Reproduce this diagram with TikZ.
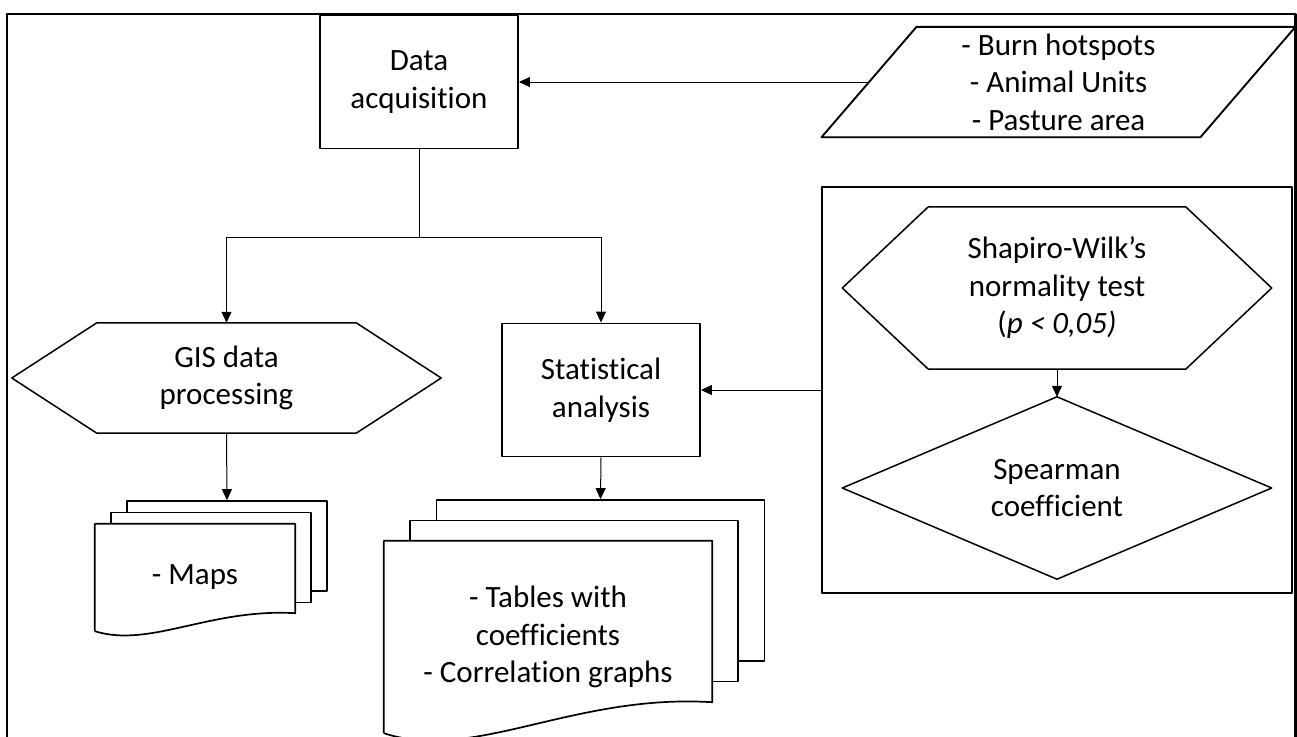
\documentclass[tikz,border=0pt]{standalone}
\usepackage{fontspec}
\setmainfont{Carlito}[Ligatures={TeX,NoCommon}]
\usetikzlibrary{arrows.meta,calc}
% hexagon drawn round a (plain) node, #2 = inset of the points
\newcommand{\hexa}[2]{\draw[shp] ($(#1.north west)+(#2,0)$) -- ($(#1.north east)+(-#2,0)$) -- (#1.east) -- ($(#1.south east)+(-#2,0)$) -- ($(#1.south west)+(#2,0)$) -- (#1.west) -- cycle;}
% front sheet of a document stack, #2 = width, #3 = wave height
\newcommand{\wavy}[3]{\draw[sheetline] (#1.south west) -- (#1.north west) -- (#1.north east) -- ($(#1.south east)+(0,-#3)$) .. controls ($(#1.south west)+(0.575*#2,-1.28*#3)$) and ($(#1.south west)+(0.275*#2,0.95*#3)$) .. (#1.south west);}
\begin{document}
\begin{tikzpicture}[x=1pt,y=-1pt,line join=round,
	txt/.style={font=\fontsize{31}{37.5}\selectfont,align=center,inner sep=0pt},
	box/.style={txt,draw,line width=1.9pt,minimum width=198pt,minimum height=133pt},
	shp/.style={line width=1.5pt},
	sheet/.style={draw,fill=white,line width=1.7pt},
	sheetline/.style={line width=1.7pt},
	arr/.style={-{Triangle[length=11pt,width=10pt]},line width=1pt}]
	\useasboundingbox (0,0) rectangle (1297,736);
	\draw[line width=2.5pt] (7,740) -- (7,14) -- (1295.5,14) -- (1295.5,740);
	% top row
	\node[box] (acq) at (419,82) {Data\\acquisition};
	\node[txt,minimum width=378.5pt,minimum height=110pt] (input) at (1058.5,82) {- Burn hotspots\\- Animal Units\\- Pasture area};
	\draw[line width=1.9pt] ($(input.north west)+(47.5,0)$) -- ($(input.north east)+(47.5,0)$) -- ($(input.south east)+(-47.5,0)$) -- ($(input.south west)+(-47.5,0)$) -- cycle;
	\draw[arr] (input.west) -- (acq.east);
	% middle row
	\node[txt,minimum width=429pt,minimum height=110pt] (gis) at (226.5,378) {GIS data\\processing};
	\hexa{gis}{85}
	\node[box] (stat) at (601,390) {Statistical\\analysis};
	\draw (acq.south) -- ++(0,88) coordinate (split);
	\draw[arr] (split) -| (gis.north);
	\draw[arr] (split) -| (stat.north);
	% tests
	\node[draw,line width=1.6pt,minimum width=470pt,minimum height=406pt] (tests) at (1057,390) {};
	\node[txt,minimum width=429pt,minimum height=162pt] (shap) at (1057,288) {Shapiro-Wilk’s\\normality test\\({\itshape p < 0,05)}};
	\hexa{shap}{86}
	\node[txt,minimum width=429pt,minimum height=182pt] (spear) at (1057,488) {Spearman\\coefficient};
	\draw[shp] (spear.north) -- (spear.east) -- (spear.south) -- (spear.west) -- cycle;
	\draw[arr] (shap.south) -- (spear.north);
	\draw[arr] (tests.west) -- (stat.east);
	% outputs
	\node[sheet,minimum width=200pt,minimum height=90pt] (maps3) at (227,546) {};
	\node[sheet,minimum width=200pt,minimum height=90pt] (maps2) at (211,557.5) {};
	\node[txt,fill=white,minimum width=200pt,minimum height=107pt] (maps) at (195,577.5) {- Maps};
	\wavy{maps}{200}{18}
	\draw[arr] (gis.south) -- (maps3.north);
	\node[sheet,minimum width=328pt,minimum height=161pt] (tab3) at (600.5,580.5) {};
	\node[sheet,minimum width=328pt,minimum height=161pt] (tab2) at (574,601) {};
	\node[txt,fill=white,minimum width=328pt,minimum height=192pt] (tab) at (548,637) {- Tables with\\coefficients\\- Correlation graphs};
	\wavy{tab}{328}{31}
	\draw[arr] (stat.south) -- (tab3.north);
\end{tikzpicture}
\end{document}
